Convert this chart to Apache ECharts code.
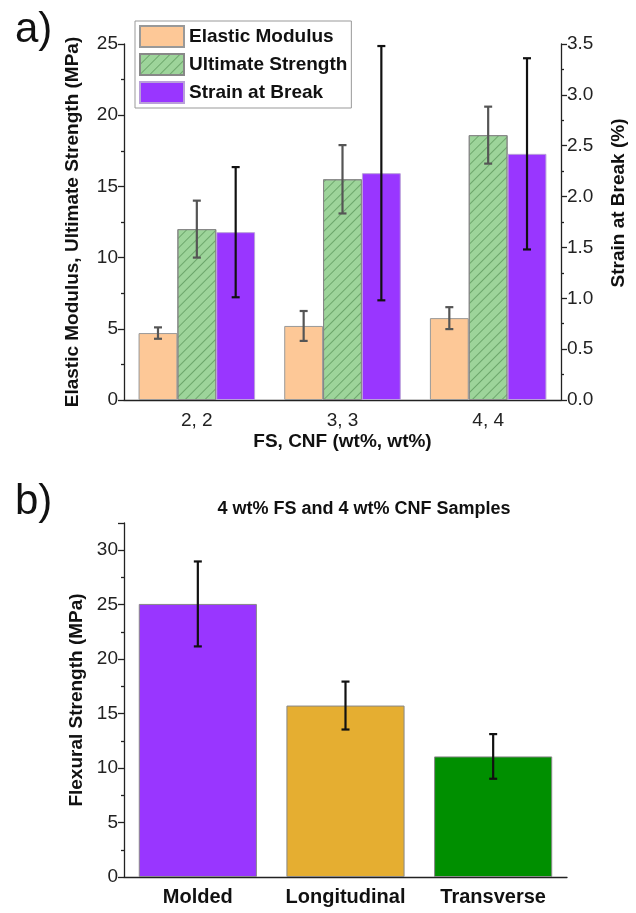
<!DOCTYPE html>
<html>
<head>
<meta charset="utf-8">
<script src="https://cdn.jsdelivr.net/npm/echarts@6/dist/echarts.min.js"></script>
<style>
html,body{margin:0;padding:0;background:#fff;}
#main{width:636px;height:913px;}
</style>
</head>
<body>
<div id="main"></div>
<script>
// panel a
var groups = ['2, 2', '3, 3', '4, 4'];
var modulus = [4.7, 5.2, 5.75];
var modulusErr = [0.4, 1.05, 0.77];
var strength = [12.0, 15.5, 18.6];
var strengthErr = [2.0, 2.4, 2.0];
var strain = [1.65, 2.23, 2.42];
var strainErr = [0.64, 1.25, 0.94];
// panel b
var samples = ['Molded', 'Longitudinal', 'Transverse'];
var flexural = [25.07, 15.74, 11.07];
var flexuralErr = [3.9, 2.2, 2.05];
var sampleColors = ['#9936FF', '#E5AE31', '#008F00'];

var myChart = echarts.init(document.getElementById('main'));
var FONT = 'Liberation Sans, Arial, sans-serif';

// error bars drawn with a custom series, placed on the slot of the matching bar
function errorBars(vals, errs, slot, slots, color, xi, yi) {
    return {
        type: 'custom', xAxisIndex: xi, yAxisIndex: yi, z: 10, silent: true,
        data: vals.map(function (v, i) { return [i, v, errs[i]]; }),
        renderItem: function (params, api) {
            var i = api.value(0), v = api.value(1), e = api.value(2);
            var band = api.size([1, 0])[0];
            var w = band * 0.8 / slots;
            var dx = (slot - (slots - 1) / 2) * w;
            var top = api.coord([i, v + e]), bot = api.coord([i, v - e]);
            var x = top[0] + dx, cap = 4;
            var st = { stroke: color, lineWidth: 2.2 };
            return { type: 'group', children: [
                { type: 'line', shape: { x1: x, y1: top[1], x2: x, y2: bot[1] }, style: st },
                { type: 'line', shape: { x1: x - cap, y1: top[1], x2: x + cap, y2: top[1] }, style: st },
                { type: 'line', shape: { x1: x - cap, y1: bot[1], x2: x + cap, y2: bot[1] }, style: st }
            ] };
        }
    };
}

var axisLine = { show: true, lineStyle: { color: '#222', width: 1.3 } };
var tickLab = { fontSize: 19, color: '#222', fontFamily: FONT };
var nameStyle = { fontSize: 19, fontWeight: 'bold', color: '#111', fontFamily: FONT };

myChart.setOption({
    animation: false,
    textStyle: { fontFamily: FONT },
    title: [
        { text: 'a)', left: 10, top: 4, textStyle: { fontSize: 42, fontWeight: 'normal', color: '#111', fontFamily: FONT } },
        { text: 'b)', left: 10, top: 476, textStyle: { fontSize: 42, fontWeight: 'normal', color: '#111', fontFamily: FONT } },
        { text: '4 wt% FS and 4 wt% CNF Samples', left: 359, top: 495, textAlign: 'center',
          textStyle: { fontSize: 18, fontWeight: 'bold', color: '#111', fontFamily: FONT } }
    ],
    legend: {
        data: ['Elastic Modulus', 'Ultimate Strength', 'Strain at Break'],
        orient: 'vertical', left: 135, top: 21, padding: 4,
        itemWidth: 44, itemHeight: 21, itemGap: 5,
        borderColor: '#999', borderWidth: 1,
        icon: 'rect',
        textStyle: { fontSize: 19, fontWeight: 'bold', color: '#111', fontFamily: FONT }
    },
    grid: [
        { left: 124, right: 69, top: 44, height: 356 },
        { left: 124, right: 69, top: 523, height: 354 }
    ],
    xAxis: [
        { type: 'category', gridIndex: 0, data: groups, axisLine: axisLine,
          axisTick: { alignWithLabel: true, length: 6, lineStyle: { color: '#222', width: 1.3 } },
          axisLabel: Object.assign({ margin: 11, interval: 0 }, tickLab),
          name: 'FS, CNF (wt%, wt%)', nameLocation: 'middle', nameGap: 32, nameTextStyle: nameStyle },
        { type: 'category', gridIndex: 0, data: groups, axisLine: { show: false },
          axisTick: { length: 4, lineStyle: { color: '#222', width: 1.3 } }, axisLabel: { show: false } },
        { type: 'category', gridIndex: 1, data: samples, axisLine: axisLine,
          axisTick: { alignWithLabel: true, length: 6, lineStyle: { color: '#222', width: 1.3 } },
          axisLabel: { margin: 10, interval: 0, fontWeight: 'bold', color: '#111', fontSize: 20, fontFamily: FONT } },
        { type: 'category', gridIndex: 1, data: samples, axisLine: { show: false },
          axisTick: { length: 4, lineStyle: { color: '#222', width: 1.3 } }, axisLabel: { show: false } }
    ],
    yAxis: [
        { type: 'value', gridIndex: 0, min: 0, max: 25, interval: 5, axisLine: axisLine,
          axisTick: { show: true, length: 6, lineStyle: { color: '#222', width: 1.3 } },
          minorTick: { show: true, splitNumber: 2, length: 3, lineStyle: { color: '#222', width: 1.3 } },
          splitLine: { show: false }, axisLabel: Object.assign({ margin: 6 }, tickLab),
          name: 'Elastic Modulus, Ultimate Strength (MPa)', nameLocation: 'middle', nameRotate: 90,
          nameGap: 42, nameTextStyle: nameStyle },
        { type: 'value', gridIndex: 0, position: 'right', min: 0, max: 3.5, interval: 0.5, axisLine: axisLine,
          axisTick: { show: true, length: 6, lineStyle: { color: '#222', width: 1.3 } },
          minorTick: { show: true, splitNumber: 2, length: 3, lineStyle: { color: '#222', width: 1.3 } },
          splitLine: { show: false },
          axisLabel: Object.assign({ margin: 6, formatter: function (v) { return v.toFixed(1); } }, tickLab),
          name: 'Strain at Break (%)', nameLocation: 'middle', nameRotate: 90, nameGap: 48,
          nameTextStyle: Object.assign({ padding: [0, 0, 0, 38] }, nameStyle) },
        { type: 'value', gridIndex: 1, min: 0, max: 32.5, interval: 5, axisLine: axisLine,
          axisTick: { show: true, length: 6, lineStyle: { color: '#222', width: 1.3 } },
          minorTick: { show: true, splitNumber: 2, length: 3, lineStyle: { color: '#222', width: 1.3 } },
          splitLine: { show: false }, axisLabel: Object.assign({ margin: 6, showMaxLabel: false }, tickLab),
          name: 'Flexural Strength (MPa)', nameLocation: 'middle', nameRotate: 90,
          nameGap: 38, nameTextStyle: nameStyle }
    ],
    series: [
        { name: 'Elastic Modulus', type: 'bar', xAxisIndex: 0, yAxisIndex: 0, data: modulus,
          barGap: 0, barCategoryGap: '20%',
          itemStyle: { color: '#FDC897', borderColor: '#999', borderWidth: 1 } },
        { name: 'Ultimate Strength', type: 'bar', xAxisIndex: 0, yAxisIndex: 0, data: strength,
          barGap: 0, barCategoryGap: '20%',
          itemStyle: { color: '#9DD49A', borderColor: '#888', borderWidth: 1,
            decal: { symbol: 'rect', symbolSize: 1, dashArrayX: [1, 0], dashArrayY: [1, 6],
                     rotation: -Math.PI / 4, color: 'rgba(70,130,70,0.55)' } } },
        { name: 'Strain at Break', type: 'bar', xAxisIndex: 0, yAxisIndex: 1, data: strain,
          barGap: 0, barCategoryGap: '20%',
          itemStyle: { color: '#9936FF', borderColor: '#b9a0d9', borderWidth: 1 } },
        errorBars(modulus, modulusErr, 0, 3, '#555', 0, 0),
        errorBars(strength, strengthErr, 1, 3, '#555', 0, 0),
        errorBars(strain, strainErr, 2, 3, '#111', 0, 1),
        { name: 'Flexural Strength', type: 'bar', xAxisIndex: 2, yAxisIndex: 2, barCategoryGap: '20%',
          data: flexural.map(function (v, i) {
              return { value: v, itemStyle: { color: sampleColors[i] } };
          }),
          itemStyle: { borderColor: '#888', borderWidth: 1 } },
        errorBars(flexural, flexuralErr, 0, 1, '#111', 2, 2)
    ]
});
</script>
</body>
</html>
